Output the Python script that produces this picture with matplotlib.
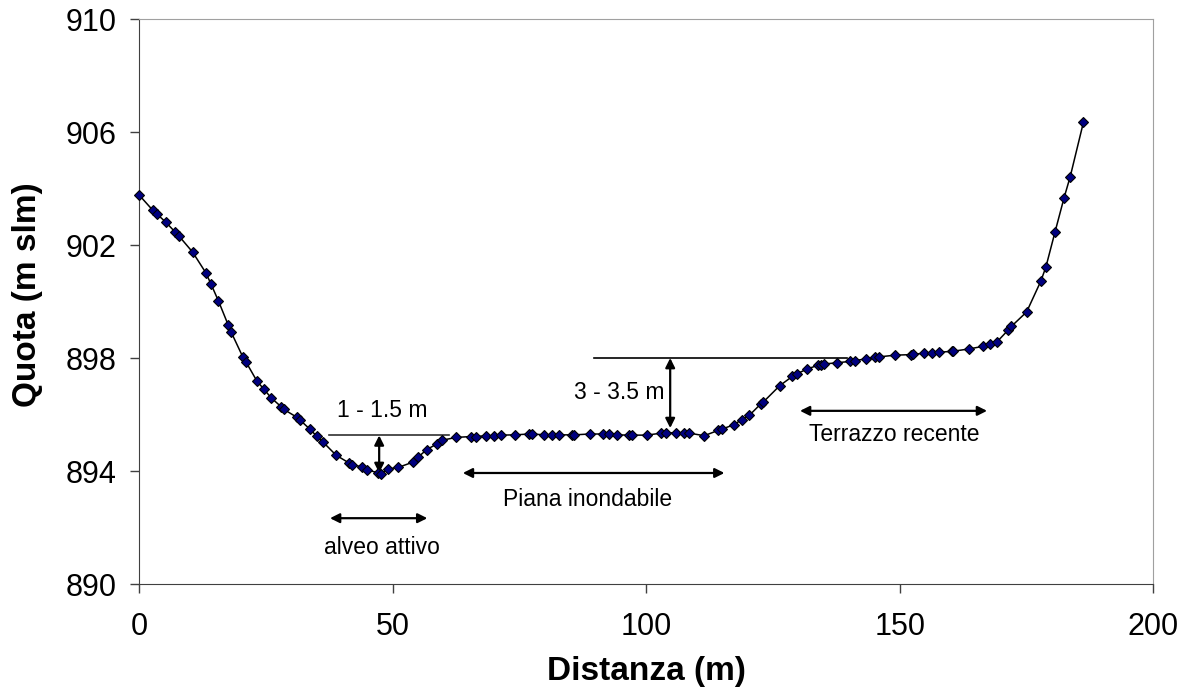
import matplotlib.pyplot as plt

plt.rcParams['font.family'] = ['Liberation Sans', 'DejaVu Sans']

# Profilo trasversale: distanza (m) e quota (m slm)
distanza = [0, 2.6, 3.4, 5.2, 7.0, 7.8, 10.5, 13.1, 14.1, 15.6, 17.5, 18.1, 20.4, 21.0,
            23.2, 24.5, 26.0, 28.0, 28.5, 31.1, 31.6, 33.7, 35.0, 36.2, 38.8, 41.4, 41.9,
            44.0, 44.9, 47.1, 47.6, 49.0, 51.1, 53.9, 54.9, 56.7, 58.7, 59.7, 62.5, 65.4,
            66.3, 68.4, 70.0, 71.3, 74.0, 76.9, 77.5, 79.9, 81.4, 82.7, 85.4, 85.8, 88.8,
            91.4, 92.6, 94.3, 96.5, 97.2, 100.1, 102.9, 103.9, 105.8, 107.5, 108.5, 111.4,
            114.2, 115.0, 117.3, 118.8, 120.3, 122.6, 123.0, 126.3, 128.8, 129.8, 131.7,
            133.8, 134.4, 135.1, 137.6, 140.1, 141.2, 143.3, 145.0, 145.9, 149.0, 152.1,
            152.6, 154.8, 156.3, 157.7, 160.3, 160.5, 163.6, 166.3, 167.7, 169.1, 171.3,
            172.0, 175.0, 177.8, 178.8, 180.6, 182.4, 183.6, 186.2]
quota = [903.76, 903.24, 903.11, 902.81, 902.47, 902.32, 901.75, 901.02, 900.63, 900.02,
         899.18, 898.92, 898.04, 897.87, 897.18, 896.91, 896.59, 896.27, 896.18, 895.90,
         895.82, 895.47, 895.23, 895.03, 894.56, 894.28, 894.23, 894.14, 894.05, 893.93,
         893.90, 894.07, 894.13, 894.31, 894.48, 894.76, 894.96, 895.09, 895.19, 895.22,
         895.22, 895.25, 895.25, 895.27, 895.28, 895.31, 895.31, 895.28, 895.28, 895.28,
         895.28, 895.28, 895.31, 895.31, 895.31, 895.28, 895.27, 895.27, 895.27, 895.34,
         895.34, 895.36, 895.34, 895.34, 895.25, 895.44, 895.49, 895.64, 895.82, 895.97,
         896.38, 896.43, 897.02, 897.35, 897.45, 897.61, 897.74, 897.77, 897.79, 897.83,
         897.88, 897.91, 897.97, 898.02, 898.04, 898.10, 898.12, 898.13, 898.17, 898.18,
         898.20, 898.24, 898.24, 898.32, 898.41, 898.48, 898.56, 898.98, 899.12, 899.63,
         900.72, 901.22, 902.46, 903.68, 904.42, 906.34]

fig = plt.figure(figsize=(11.81, 6.99), dpi=100)
ax = fig.add_axes([0.118, 0.1645, 0.8586, 0.8083])

ax.plot(distanza, quota, color='black', lw=1.1, marker='D', markersize=5.6,
        markerfacecolor='#000080', markeredgecolor='black', markeredgewidth=0.8,
        clip_on=False, zorder=5)

ax.set_xlim(0, 200)
ax.set_ylim(890, 910)
ax.set_xticks([0, 50, 100, 150, 200])
ax.set_yticks([890, 894, 898, 902, 906, 910])
ax.tick_params(labelsize=22, direction='out', length=6.5, width=1, colors='#404040',
               labelcolor='black')
ax.tick_params(axis='x', pad=14)
ax.tick_params(axis='y', pad=10)
for s in ['left', 'bottom']:
    ax.spines[s].set_color('#404040')
for s in ['top', 'right']:
    ax.spines[s].set_color('#a0a0a0')

ax.set_xlabel('Distanza (m)', fontsize=24, fontweight='bold', labelpad=10)
ax.set_ylabel('Quota (m slm)', fontsize=24, fontweight='bold')
ax.yaxis.set_label_coords(-0.095, 0.512)

# annotazioni
arrow = dict(arrowstyle='<|-|>', color='black', lw=1.6, mutation_scale=14, shrinkA=0, shrinkB=0)

ax.plot([37.5, 61.1], [895.26, 895.26], color='#303030', lw=1.2)
ax.annotate('', xy=(47.3, 895.26), xytext=(47.3, 893.93), arrowprops=arrow)
ax.text(47.9, 896.13, '1 - 1.5 m', fontsize=16.5, ha='center', va='center')

ax.plot([89.7, 139.6], [898.0, 898.0], color='black', lw=1.2)
ax.annotate('', xy=(104.7, 898.0), xytext=(104.7, 895.52), arrowprops=arrow)
ax.text(103.5, 896.78, '3 - 3.5 m', fontsize=16.5, ha='right', va='center')

ax.annotate('', xy=(37.6, 892.33), xytext=(56.8, 892.33), arrowprops=arrow)
ax.text(47.8, 891.30, 'alveo attivo', fontsize=16.5, ha='center', va='center')

ax.annotate('', xy=(63.8, 893.93), xytext=(115.4, 893.93), arrowprops=arrow)
ax.text(88.4, 893.0, 'Piana inondabile', fontsize=16.5, ha='center', va='center')

ax.annotate('', xy=(130.3, 896.13), xytext=(167.2, 896.13), arrowprops=arrow)
ax.text(148.8, 895.28, 'Terrazzo recente', fontsize=16.5, ha='center', va='center')

fig.savefig('out.png', dpi=100)
